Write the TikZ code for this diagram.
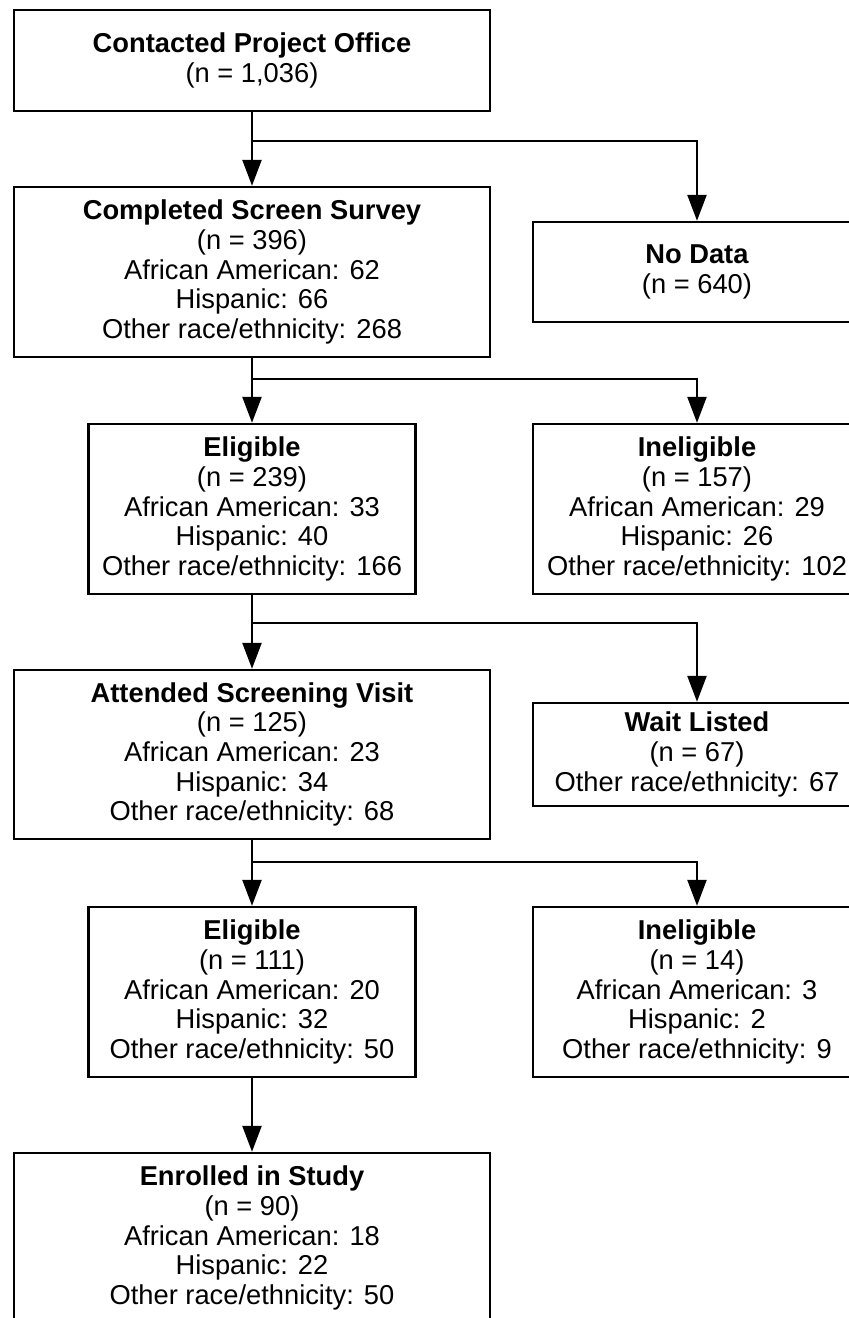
\documentclass[tikz,border=0pt]{standalone}
\usepackage{fontspec}
\setmainfont{Liberation Sans}
\usetikzlibrary{arrows.meta}
\begin{document}
\begin{tikzpicture}[x=1pt,y=-1pt,
  box/.style={draw, line width=2.4pt, rectangle, inner sep=0pt, align=center,
    font=\fontsize{27.3}{29.7}\selectfont},
  wide/.style={box, minimum width=476pt},
  mid/.style={box, minimum width=327pt},
  side/.style={box, minimum width=328pt},
  arr/.style={line width=2.4pt, -{Triangle[length=26pt,width=19pt]}}]
\useasboundingbox (0,0) rectangle (849,1318);
\clip (0,0) rectangle (849,1318);
\fill[white] (0,0) rectangle (849,1318);

\node[wide, minimum height=101pt] (contact) at (252,60.5)
  {\textbf{Contacted Project Office}\\(n = 1,036)};
\node[wide, minimum height=170pt] (survey) at (252,272)
  {\textbf{Completed Screen Survey}\\(n = 396)\\African American: 62\\Hispanic: 66\\Other race/ethnicity: 268};
\node[side, minimum height=100pt] (nodata) at (697,272)
  {\textbf{No Data}\\(n = 640)};
\node[mid, minimum height=170pt] (elig1) at (252,509)
  {\textbf{Eligible}\\(n = 239)\\African American: 33\\Hispanic: 40\\Other race/ethnicity: 166};
\node[side, minimum height=170pt] (inel1) at (697,509)
  {\textbf{Ineligible}\\(n = 157)\\African American: 29\\Hispanic: 26\\Other race/ethnicity: 102};
\node[wide, minimum height=169pt] (visit) at (252,754.5)
  {\textbf{Attended Screening Visit}\\(n = 125)\\African American: 23\\Hispanic: 34\\Other race/ethnicity: 68};
\node[side, minimum height=103pt] (wait) at (697,754.5)
  {\textbf{Wait Listed}\\(n = 67)\\Other race/ethnicity: 67};
\node[mid, minimum height=170pt] (elig2) at (252,992)
  {\textbf{Eligible}\\(n = 111)\\African American: 20\\Hispanic: 32\\Other race/ethnicity: 50};
\node[side, minimum height=170pt] (inel2) at (697,992)
  {\textbf{Ineligible}\\(n = 14)\\African American: 3\\Hispanic: 2\\Other race/ethnicity: 9};
\node[wide, minimum height=170pt] (enrol) at (252,1238)
  {\textbf{Enrolled in Study}\\(n = 90)\\African American: 18\\Hispanic: 22\\Other race/ethnicity: 50};

\coordinate (j1) at (252,141);
\coordinate (j2) at (252,379);
\coordinate (j3) at (252,623);
\coordinate (j4) at (252,862);

\draw[arr] (contact.south) -- (survey.north);
\draw[arr] (j1) -| (nodata.north);
\draw[arr] (survey.south) -- (elig1.north);
\draw[arr] (j2) -| (inel1.north);
\draw[arr] (elig1.south) -- (visit.north);
\draw[arr] (j3) -| (wait.north);
\draw[arr] (visit.south) -- (elig2.north);
\draw[arr] (j4) -| (inel2.north);
\draw[arr] (elig2.south) -- (enrol.north);
\end{tikzpicture}
\end{document}
